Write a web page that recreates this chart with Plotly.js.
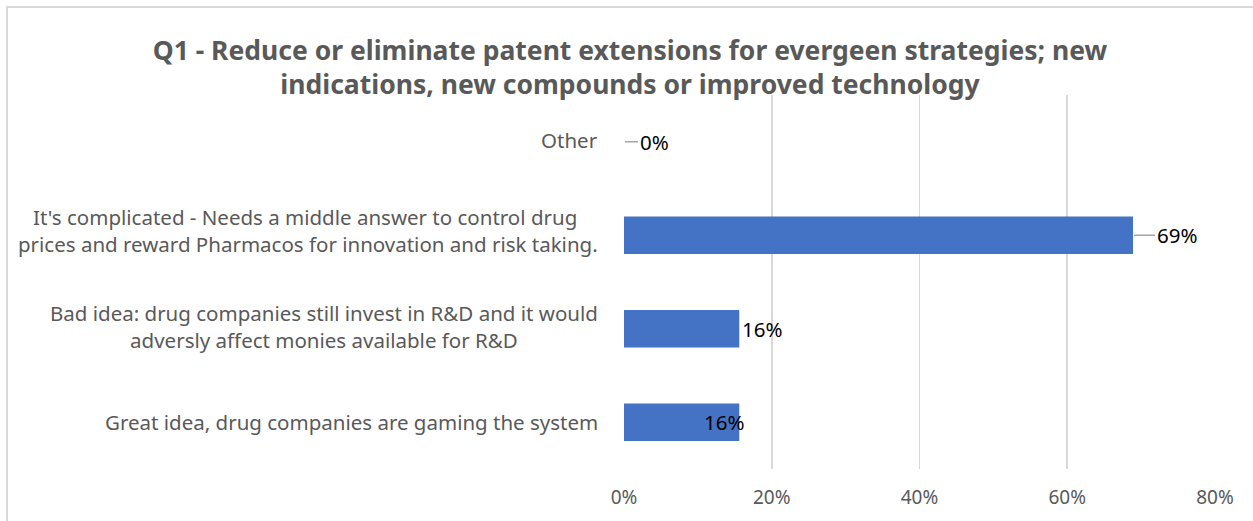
<!DOCTYPE html>
<html>
<head>
<meta charset="utf-8">
<script src="https://cdn.plot.ly/plotly-3.0.1.min.js"></script>
<style>
html,body{margin:0;padding:0;background:#fff;}
#wrap{position:relative;width:1253px;height:521px;overflow:hidden;}
#chart{width:1253px;height:521px;}
#frame{position:absolute;left:6px;top:6px;width:1400px;height:700px;border:2px solid #d9d9d9;pointer-events:none;}
</style>
</head>
<body>
<div id="wrap"><div id="chart"></div><div id="frame"></div></div>
<script>
// ---- data ----
const categories = [
  "Great idea, drug companies are gaming the system",
  "Bad idea: drug companies still invest in R&D and it would<br>adversly affect monies available for R&D",
  "It's complicated - Needs a middle answer to control drug <br>prices and reward Pharmacos for innovation and risk taking.",
  "Other"
];
const values = [15.6, 15.6, 68.9, 0];
const tickValues = [0, 20, 40, 60, 80];
const tickLabels = ["0%", "20%", "40%", "60%", "80%"];
const titleText = "Q1 - Reduce or eliminate patent extensions for evergeen strategies; new<br>indications, new compounds or improved technology";

// ---- label placement styles (per bar, bottom to top) ----
const labelStyle = [
  {mode: "inside", xshift: 8},
  {mode: "outside", xshift: 1},
  {mode: "leader", ax: 22},
  {mode: "leader", ax: 14}
];
const catShift = [0, 2, 5, 2];

const FONT = "Noto Sans, sans-serif";
const GRAY = "#595959";

const annotations = [];
categories.forEach((c, i) => {
  annotations.push({
    xref: "paper", yref: "y", x: -24/591, y: c, xanchor: "right", yanchor: "middle",
    text: c, showarrow: false, align: "center", yshift: catShift[i],
    font: {family: FONT, size: 20.5, color: GRAY}
  });
  const st = labelStyle[i];
  const txt = Math.round(values[i]) + "%";
  const base = {xref: "x", yref: "y", x: values[i], y: c, text: txt,
    font: {family: FONT, size: 20.5, color: "#000"}};
  if (st.mode === "leader") {
    annotations.push(Object.assign(base, {showarrow: true, arrowhead: 0, arrowwidth: 1.3,
      arrowcolor: "#a6a6a6", ax: st.ax, ay: 0, xanchor: "left", yanchor: "middle", standoff: 1}));
  } else if (st.mode === "outside") {
    annotations.push(Object.assign(base, {showarrow: false, xanchor: "left", yanchor: "middle", xshift: st.xshift}));
  } else {
    annotations.push(Object.assign(base, {showarrow: false, xanchor: "right", yanchor: "middle", xshift: st.xshift}));
  }
});

const trace = {
  type: "bar", orientation: "h",
  y: categories, x: values,
  marker: {color: "#4472c4"},
  width: 0.4,
  hoverinfo: "none"
};

const layout = {
  width: 1253, height: 521,
  margin: {l: 624, r: 38, t: 95, b: 52},
  paper_bgcolor: "#fff", plot_bgcolor: "#fff",
  showlegend: false,
  title: {
    text: titleText,
    font: {family: FONT, size: 26.5, color: GRAY, weight: "bold"},
    x: 630/1253, xanchor: "center", xref: "container",
    y: 1 - 60/521, yanchor: "middle", yref: "container"
  },
  xaxis: {
    range: [0, 80], tickvals: tickValues, ticktext: tickLabels,
    showgrid: true, gridcolor: "#d9d9d9", gridwidth: 1.6,
    zeroline: false, showline: false, ticks: "",
    tickfont: {family: FONT, size: 19, color: GRAY},
    ticklabelstandoff: 15, fixedrange: true
  },
  yaxis: {
    type: "category", categoryorder: "array", categoryarray: categories,
    range: [-0.5, 3.5], showticklabels: false, showgrid: false, zeroline: false,
    showline: false, ticks: "", fixedrange: true
  },
  annotations: annotations
};

Plotly.newPlot("chart", [trace], layout, {displayModeBar: false, staticPlot: true});
</script>
</body>
</html>
